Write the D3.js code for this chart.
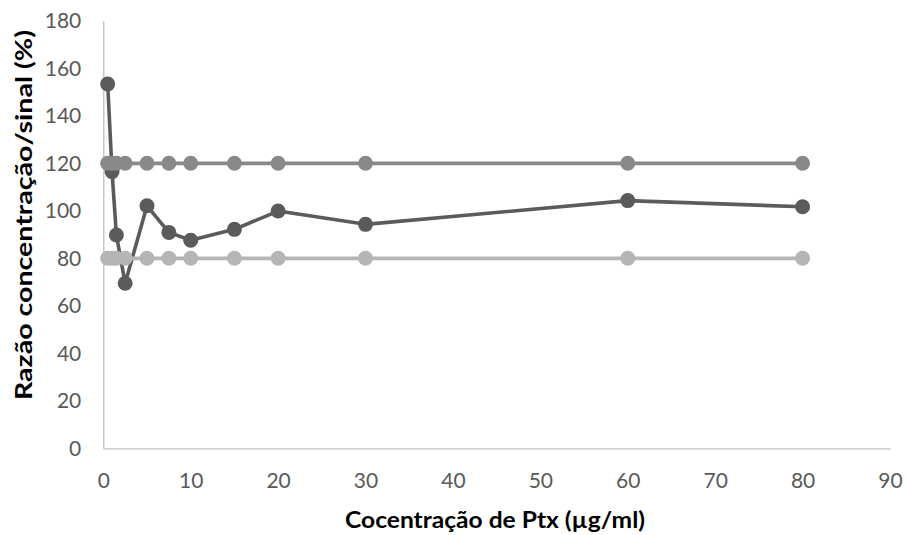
<!DOCTYPE html>
<html><head><meta charset="utf-8">
<script src="https://cdn.jsdelivr.net/npm/d3@7"></script>
<style>html,body{margin:0;padding:0;background:#fff;}</style>
</head><body>
<svg id="c" width="906" height="535"></svg>
<script>
const concentrations = [0.5, 1, 1.5, 2.5, 5, 7.5, 10, 15, 20, 30, 60, 80];
const ratioValues = [153.4, 116.5, 89.8, 69.5, 102.1, 90.9, 87.6, 92.2, 99.9, 94.3, 104.3, 101.7];
const upperLimit = [120, 120, 120, 120, 120, 120, 120, 120, 120, 120, 120, 120];
const lowerLimit = [80, 80, 80, 80, 80, 80, 80, 80, 80, 80, 80, 80];
const xTicks = [0, 10, 20, 30, 40, 50, 60, 70, 80, 90];
const yTicks = [0, 20, 40, 60, 80, 100, 120, 140, 160, 180];
const xTitle = "Cocentração de Ptx (µg/ml)";
const yTitle = "Razão concentração/sinal (%)";

const svg = d3.select("#c");
const font = "Lato, 'Open Sans', sans-serif";
const x = d3.scaleLinear().domain([0, 90]).range([103.3, 890]);
const y = d3.scaleLinear().domain([0, 180]).range([448.3, 20.8]);

const xAxis = svg.append("g").attr("transform", `translate(0,${y(0)})`)
  .call(d3.axisBottom(x).tickValues(xTicks).tickSize(0).tickPadding(25));
const yAxis = svg.append("g").attr("transform", `translate(${x(0)},0)`)
  .call(d3.axisLeft(y).tickValues(yTicks).tickSize(0).tickPadding(22));
[xAxis, yAxis].forEach(g => {
  g.select(".domain").attr("stroke", "#bfbfbf").attr("stroke-width", 1.3);
  g.selectAll("text").attr("fill", "#595959").style("font-family", font).style("font-size", "21px");
});

const series = [
  {vals: ratioValues, color: "#5b5b5b", w: 3.6},
  {vals: upperLimit, color: "#898989", w: 3.8},
  {vals: lowerLimit, color: "#b5b5b5", w: 3.8}
];
const line = d3.line().x(d => x(d[0])).y(d => y(d[1]));
series.forEach(s => {
  const pts = concentrations.map((c, i) => [c, s.vals[i]]);
  const g = svg.append("g");
  g.append("path").datum(pts).attr("d", line).attr("fill", "none")
    .attr("stroke", s.color).attr("stroke-width", s.w).attr("stroke-linejoin", "round");
  g.selectAll("circle").data(pts).join("circle")
    .attr("cx", d => x(d[0])).attr("cy", d => y(d[1])).attr("r", 7.5).attr("fill", s.color);
});

svg.append("text").text(xTitle).attr("x", 495).attr("y", 528)
  .attr("text-anchor", "middle").attr("textLength", 300).attr("lengthAdjust", "spacingAndGlyphs")
  .style("font-family", font).style("font-weight", "bold")
  .style("font-size", "23px").attr("fill", "#000");
svg.append("text").text(yTitle).attr("transform", "translate(32,215) rotate(-90)")
  .attr("text-anchor", "middle").attr("textLength", 370).attr("lengthAdjust", "spacingAndGlyphs")
  .style("font-family", font).style("font-weight", "bold")
  .style("font-size", "23px").attr("fill", "#000");
</script>
</body></html>
